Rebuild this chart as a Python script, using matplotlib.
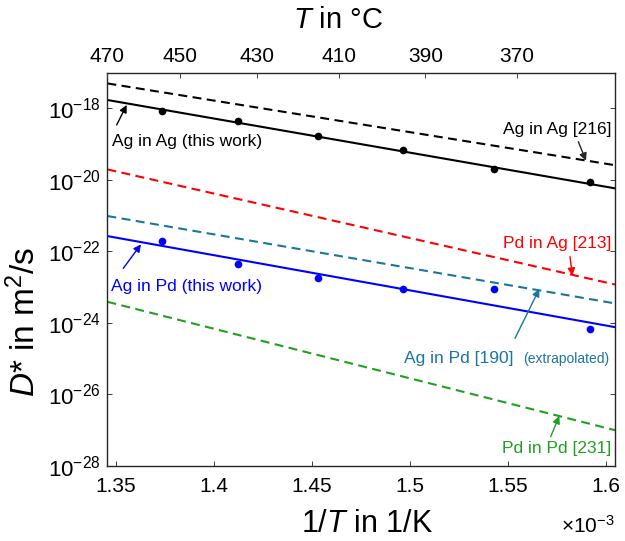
import numpy as np
import matplotlib
matplotlib.use("Agg")
import matplotlib.pyplot as plt

plt.rcParams["font.family"] = "Liberation Sans"
plt.rcParams["mathtext.fontset"] = "custom"
plt.rcParams["mathtext.rm"] = "Liberation Sans"
plt.rcParams["mathtext.it"] = "Liberation Sans:italic"
plt.rcParams["mathtext.bf"] = "Liberation Sans:bold"

# measured points (this work), temperature in °C
T_meas_C = [455, 435, 415, 395, 375, 355]
D_AgAg_meas = [8.3e-19, 4.46e-19, 1.66e-19, 6.9e-20, 1.99e-20, 8.9e-21]
D_AgPd_meas = [1.96e-22, 4.38e-23, 1.85e-23, 8.7e-24, 8.7e-24, 6.6e-25]

# Arrhenius lines: D0 in m^2/s, Q in eV
D0_AgAg_fit, Q_AgAg_fit = 1.17e-5, 1.892
D0_AgAg_216, Q_AgAg_216 = 3.76e-6, 1.751
D0_PdAg_213, Q_PdAg_213 = 1.03e-3, 2.465
D0_AgPd_190, Q_AgPd_190 = 4.79e-9, 1.871
D0_AgPd_fit, Q_AgPd_fit = 4.52e-9, 1.950
D0_PdPd_231, Q_PdPd_231 = 1.72e-5, 2.749

T_range_C = [470, 350]
top_ticks_C = [470, 450, 430, 410, 390, 370]
x_ticks = [1.35, 1.4, 1.45, 1.5, 1.55, 1.6]
y_ticks = [1e-28, 1e-26, 1e-24, 1e-22, 1e-20, 1e-18]

kB = 8.617e-5


def inv_t(tc):
    # 1/T in units of 1e-3 1/K
    return 1e3 / (np.asarray(tc, dtype=float) + 273.15)


def arrhenius(x, d0, q):
    return d0 * np.exp(-q * x * 1e-3 / kB)


fig = plt.figure(figsize=(6.25, 5.41), dpi=100)
W, H = 625, 541
ax = fig.add_axes([107.4 / W, 1 - 466 / H, 507.6 / W, 393.3 / H])

xlim = (inv_t(T_range_C[0]), inv_t(T_range_C[1]))
xx = np.linspace(xlim[0], xlim[1], 200)

teal = "#1a759f"
green = "#20a020"
dash = (0, (4.3, 2.6))

ax.plot(xx, arrhenius(xx, D0_AgAg_216, Q_AgAg_216), color="black", lw=1.5, ls=dash)
ax.plot(xx, arrhenius(xx, D0_AgAg_fit, Q_AgAg_fit), color="black", lw=1.5)
ax.plot(xx, arrhenius(xx, D0_PdAg_213, Q_PdAg_213), color="red", lw=1.5, ls=dash)
ax.plot(xx, arrhenius(xx, D0_AgPd_190, Q_AgPd_190), color=teal, lw=1.5, ls=dash)
ax.plot(xx, arrhenius(xx, D0_AgPd_fit, Q_AgPd_fit), color="blue", lw=1.5)
ax.plot(xx, arrhenius(xx, D0_PdPd_231, Q_PdPd_231), color=green, lw=1.5, ls=dash)

ax.plot(inv_t(T_meas_C), D_AgAg_meas, "o", color="black", ms=4.5, ls="none")
ax.plot(inv_t(T_meas_C), D_AgPd_meas, "o", color="blue", ms=4.5, ls="none")

ax.set_yscale("log")
ax.set_xlim(xlim)
ax.set_ylim(1e-28, 1e-17)
ax.set_xticks(x_ticks)
ax.set_xticklabels([f"{v:g}" for v in x_ticks])
ax.set_yticks(y_ticks)
ax.yaxis.set_minor_locator(matplotlib.ticker.NullLocator())

for s in ax.spines.values():
    s.set_color("#262626")
    s.set_linewidth(1.0)
ax.tick_params(axis="both", direction="in", length=3.6, width=0.7, color="#404040",
               right=True, top=False)
ax.tick_params(axis="x", labelsize=15, pad=8)
ax.tick_params(axis="y", labelsize=16, pad=5)

ax.set_xlabel(r"1/$\mathit{T}$ in 1/K", fontsize=22, va="baseline")
ax.xaxis.set_label_coords(0.512, -0.167)
ax.set_ylabel(r"$\mathit{D}$* in m$^2$/s", fontsize=24, va="baseline")
ax.yaxis.set_label_coords(-0.1426, 0.366)
ax.text(1.0, -0.171, r"$\times$10$^{-3}$", transform=ax.transAxes, ha="right",
        va="baseline", fontsize=15)

# top axis in °C
ax2 = ax.twiny()
ax2.set_xlim(xlim)
ax2.set_xticks(inv_t(top_ticks_C))
ax2.set_xticklabels([str(t) for t in top_ticks_C])
ax2.tick_params(axis="x", direction="in", length=3.6, width=0.7, color="#404040",
                labelsize=15, pad=5)
for s in ax2.spines.values():
    s.set_visible(False)
ax2.set_xlabel(r"$\mathit{T}$ in °C", fontsize=21, va="baseline")
ax2.xaxis.set_label_coords(0.455, 1.113)

# annotations
arrow = dict(arrowstyle="-|>", lw=1.0, mutation_scale=11, shrinkA=0, shrinkB=0)


def note(head, tail, color):
    ax.annotate("", xy=head, xytext=tail, xycoords="axes fraction",
                textcoords="axes fraction", arrowprops=dict(arrow, color=color))


note((0.0380, 0.9181), (0.0183, 0.8673), "black")
ax.text(0.0085, 0.8263, "Ag in Ag (this work)", transform=ax.transAxes,
        ha="left", va="center", fontsize=12.5, color="black")

note((0.0662, 0.5637), (0.0313, 0.5027), "blue")
ax.text(0.0071, 0.4559, "Ag in Pd (this work)", transform=ax.transAxes,
        ha="left", va="center", fontsize=12.5, color="blue")

note((0.9429, 0.7763), (0.9277, 0.8246), "#262626")
ax.text(0.9935, 0.8561, "Ag in Ag [216]", transform=ax.transAxes,
        ha="right", va="center", fontsize=12.5, color="black")

note((0.9159, 0.4839), (0.9114, 0.5322), "red")
ax.text(0.9921, 0.5662, "Pd in Ag [213]", transform=ax.transAxes,
        ha="right", va="center", fontsize=12.5, color="red")

note((0.8509, 0.4500), (0.8030, 0.3247), teal)
ax.text(0.8010, 0.2626, "Ag in Pd [190]", transform=ax.transAxes,
        ha="right", va="baseline", fontsize=12.5, color=teal)
ax.text(0.8194, 0.2626, "(extrapolated)", transform=ax.transAxes,
        ha="left", va="baseline", fontsize=10, color=teal)

note((0.8903, 0.1271), (0.8733, 0.0745), green)
ax.text(0.9921, 0.0450, "Pd in Pd [231]", transform=ax.transAxes,
        ha="right", va="center", fontsize=12.5, color=green)

fig.savefig("out.png", dpi=100)
